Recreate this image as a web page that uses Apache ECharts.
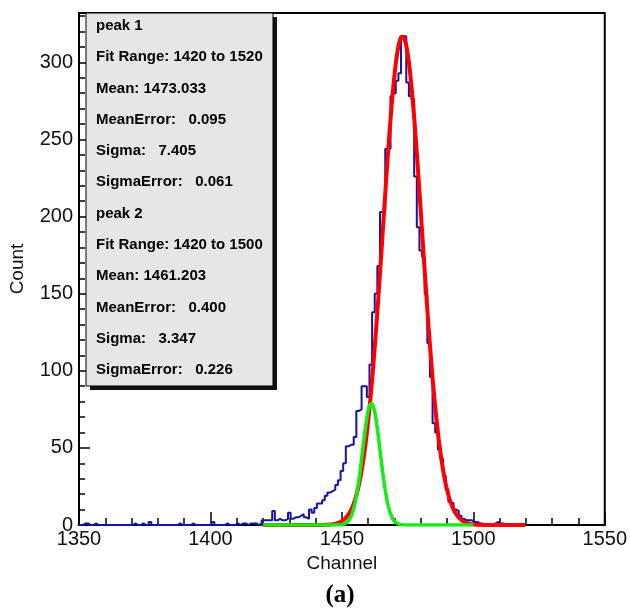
<!DOCTYPE html>
<html>
<head>
<meta charset="utf-8">
<script src="https://cdn.jsdelivr.net/npm/echarts@6/dist/echarts.min.js"></script>
<style>
  html, body { margin: 0; padding: 0; background: #ffffff; }
  #chart { width: 630px; height: 613px; }
</style>
</head>
<body>
<div id="chart"></div>
<script>
// Spectrum: counts per channel, first entry is channel 1350 (bins centred on integers)
const firstChannel = 1350;
const counts = [
  0, 0, 1, 1, 0, 0, 1, 0, 0, 0,   // 1350-1359
  0, 0, 0, 0, 0, 0, 0, 0, 0, 0,   // 1360-1369
  0, 1, 0, 0, 1, 0, 0, 2, 0, 0,   // 1370-1379
  0, 0, 0, 0, 0, 0, 0, 0, 1, 0,   // 1380-1389
  0, 0, 0, 1, 0, 0, 0, 0, 0, 0,   // 1390-1399
  0, 2, 0, 0, 0, 0, 1, 0, 0, 0,   // 1400-1409
  1, 0, 1, 1, 0, 1, 1, 1, 0, 1,   // 1410-1419
  3, 3, 3, 3, 9, 3, 4, 3, 3, 4,   // 1420-1429
  8, 4, 5, 5, 6, 7, 5, 4, 10, 8,  // 1430-1439
  11, 14, 14, 16, 19, 21, 22, 23, 26, 29,       // 1440-1449
  35, 40, 51, 52, 52, 57, 74, 75, 90, 90,       // 1450-1459
  83, 104, 138, 150, 168, 203, 203, 244, 244, 278, // 1460-1469
  280, 288, 293, 317, 317, 287, 278, 276, 226, 193, // 1470-1479
  178, 174, 150, 118, 96, 66, 60, 49, 43, 32,    // 1480-1489
  23, 15, 14, 10, 9, 6, 4, 3, 3, 3,             // 1490-1499
  2, 2, 1, 1, 0, 0, 0, 0, 1, 2,                 // 1500-1509
  1, 1, 0                                       // 1510-1512
];

// Gaussian fit results
const fitNames      = ['peak 1', 'peak 2'];
const fitRangeLo    = [1420, 1420];
const fitRangeHi    = [1520, 1500];
const fitMean       = [1473.033, 1461.203];
const fitMeanError  = [0.095, 0.400];
const fitSigma      = [7.405, 3.347];
const fitSigmaError = [0.061, 0.226];
const fitAmplitude  = [317, 79];
const fitColors     = ['#ff0000', '#11ee11'];

// Axis ranges
const xRange = [1350, 1550];
const yRange = [0, 332];

// Histogram outline as a stepped polyline from the bin edges
const histPoints = counts.map((v, i) => [firstChannel + i - 0.5, v]);
histPoints.push([firstChannel + counts.length - 0.5, counts[counts.length - 1]]);

function gaussCurve(k) {
  const pts = [];
  const step = 0.2;
  for (let x = fitRangeLo[k]; x <= fitRangeHi[k] + 1e-9; x += step) {
    const z = (x - fitMean[k]) / fitSigma[k];
    pts.push([x, fitAmplitude[k] * Math.exp(-0.5 * z * z)]);
  }
  return pts;
}

// Statistics box lines
const statLines = [];
for (let k = 0; k < fitNames.length; k++) {
  statLines.push(fitNames[k]);
  statLines.push('Fit Range: ' + fitRangeLo[k] + ' to ' + fitRangeHi[k]);
  statLines.push('Mean: ' + fitMean[k].toFixed(3));
  statLines.push('MeanError:   ' + fitMeanError[k].toFixed(3));
  statLines.push('Sigma:   ' + fitSigma[k].toFixed(3));
  statLines.push('SigmaError:   ' + fitSigmaError[k].toFixed(3));
}

const FONT = '"Liberation Sans", Arial, sans-serif';
const box = { x: 86, y: 13, w: 187, h: 373, shadow: 4 };
const lineTop = 26, lineStep = 31.27;

const graphic = [
  { type: 'rect', z: 100, shape: { x: box.x + box.shadow, y: box.y + box.shadow, width: box.w, height: box.h },
    style: { fill: '#111' } },
  { type: 'rect', z: 101, shape: { x: box.x, y: box.y, width: box.w, height: box.h },
    style: { fill: '#e6e6e6', stroke: '#000', lineWidth: 1 } }
].concat(statLines.map((t, i) => ({
  type: 'text', z: 102, x: 96, y: lineTop + i * lineStep,
  style: { text: t, font: 'bold 15px ' + FONT, fill: '#000', verticalAlign: 'middle', textAlign: 'left' }
}))).concat([
  { type: 'text', z: 102, x: 340, y: 596,
    style: { text: '(a)', font: 'bold 25px "Liberation Serif", "Times New Roman", serif', fill: '#000',
             textAlign: 'center', verticalAlign: 'middle' } }
]);

const axisLabelStyle = { fontSize: 20, color: '#111', fontFamily: FONT };

const option = {
  animation: false,
  grid: { left: 76, right: 23, top: 13, bottom: 88, show: true, borderColor: '#000', borderWidth: 2,
          backgroundColor: 'transparent' },
  xAxis: [
    {
      type: 'value', min: xRange[0], max: xRange[1], interval: 50, position: 'bottom',
      axisLine: { show: true, onZero: false, lineStyle: { color: '#000', width: 2 } },
      axisTick: { show: true, inside: true, length: 13, lineStyle: { color: '#000', width: 1.5 } },
      minorTick: { show: true, splitNumber: 5, length: 7, lineStyle: { color: '#000', width: 1.5 } },
      axisLabel: Object.assign({ margin: 4, formatter: v => String(v) }, axisLabelStyle),
      splitLine: { show: false },
      name: 'Channel', nameLocation: 'middle', nameGap: 28,
      nameTextStyle: { fontSize: 19, color: '#111', fontFamily: FONT }
    }
  ],
  yAxis: [
    {
      type: 'value', min: yRange[0], max: yRange[1], interval: 50, position: 'left',
      axisLine: { show: true, onZero: false, lineStyle: { color: '#000', width: 2 } },
      axisTick: { show: true, inside: true, length: 11, lineStyle: { color: '#000', width: 1.5 } },
      axisLabel: Object.assign({ margin: 6, showMaxLabel: false,
        formatter: v => (v % 50 === 0 ? String(v) : '') }, axisLabelStyle),
      splitLine: { show: false },
      name: 'Count', nameLocation: 'middle', nameGap: 52, nameRotate: 90,
      nameTextStyle: { fontSize: 19, color: '#111', fontFamily: FONT }
    },
    {
      type: 'value', min: yRange[0], max: yRange[1], interval: 10, position: 'left', offset: 0,
      axisLine: { show: false },
      axisTick: { show: true, inside: true, length: 6, lineStyle: { color: '#000', width: 1.5 } },
      axisLabel: { show: false },
      splitLine: { show: false }
    }
  ],
  series: [
    {
      name: 'counts', type: 'line', step: 'end', data: histPoints, showSymbol: false, symbol: 'none',
      lineStyle: { color: '#1414a8', width: 2 }, z: 3
    },
    {
      name: fitNames[0], type: 'line', data: gaussCurve(0), showSymbol: false, symbol: 'none', smooth: false,
      lineStyle: { color: fitColors[0], width: 4 }, z: 4
    },
    {
      name: fitNames[1], type: 'line', data: gaussCurve(1), showSymbol: false, symbol: 'none', smooth: false,
      lineStyle: { color: fitColors[1], width: 3.5 }, z: 5
    }
  ],
  graphic: graphic
};

const chart = echarts.init(document.getElementById('chart'), null, { renderer: 'canvas' });
chart.setOption(option);
</script>
</body>
</html>
